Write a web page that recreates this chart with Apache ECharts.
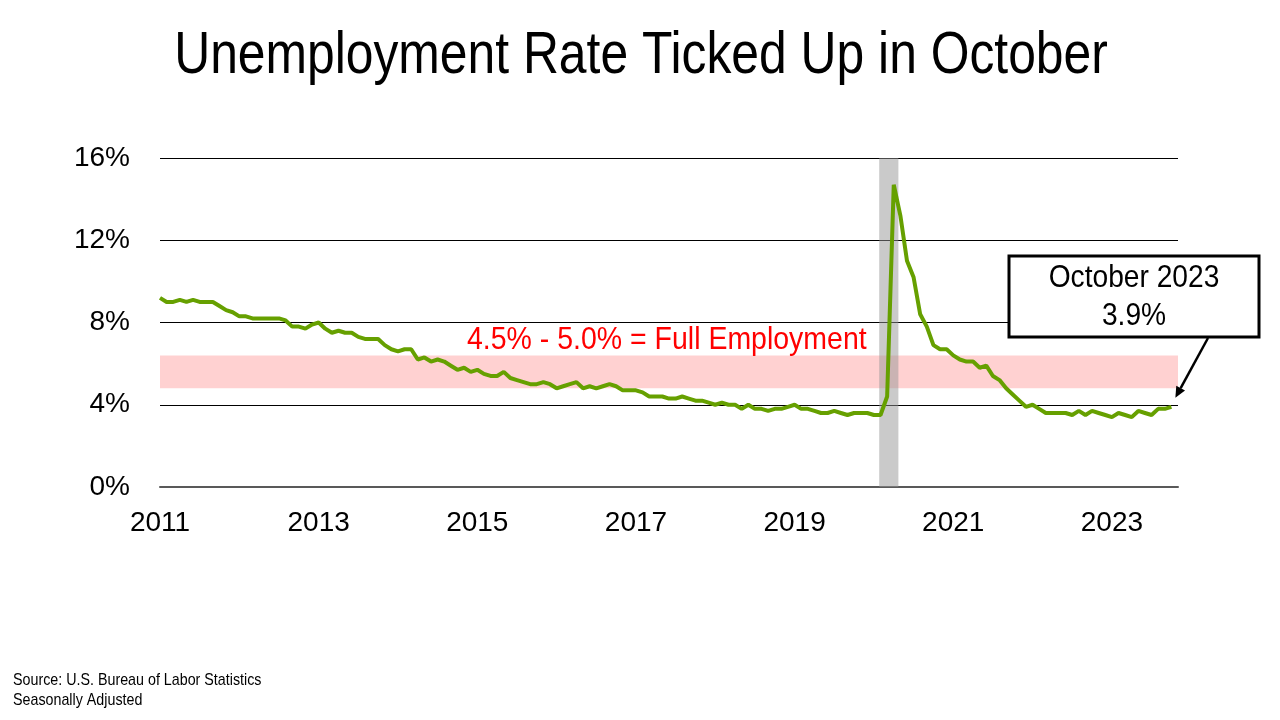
<!DOCTYPE html>
<html><head><meta charset="utf-8">
<script src="https://cdn.jsdelivr.net/npm/echarts@6/dist/echarts.min.js"></script>
<style>html,body{margin:0;padding:0;background:#fff}#c{width:1280px;height:720px}</style>
</head><body><div id="c"></div>
<script>
// Monthly unemployment rate, Jan 2011 .. Oct 2023
var startYear = 2011;
var rate2011 = [9.2, 9.0, 9.0, 9.1, 9.0, 9.1, 9.0, 9.0, 9.0, 8.8, 8.6, 8.5];
var rate2012 = [8.3, 8.3, 8.2, 8.2, 8.2, 8.2, 8.2, 8.1, 7.8, 7.8, 7.7, 7.9];
var rate2013 = [8.0, 7.7, 7.5, 7.6, 7.5, 7.5, 7.3, 7.2, 7.2, 7.2, 6.9, 6.7];
var rate2014 = [6.6, 6.7, 6.7, 6.2, 6.3, 6.1, 6.2, 6.1, 5.9, 5.7, 5.8, 5.6];
var rate2015 = [5.7, 5.5, 5.4, 5.4, 5.6, 5.3, 5.2, 5.1, 5.0, 5.0, 5.1, 5.0];
var rate2016 = [4.8, 4.9, 5.0, 5.1, 4.8, 4.9, 4.8, 4.9, 5.0, 4.9, 4.7, 4.7];
var rate2017 = [4.7, 4.6, 4.4, 4.4, 4.4, 4.3, 4.3, 4.4, 4.3, 4.2, 4.2, 4.1];
var rate2018 = [4.0, 4.1, 4.0, 4.0, 3.8, 4.0, 3.8, 3.8, 3.7, 3.8, 3.8, 3.9];
var rate2019 = [4.0, 3.8, 3.8, 3.7, 3.6, 3.6, 3.7, 3.6, 3.5, 3.6, 3.6, 3.6];
var rate2020 = [3.5, 3.5, 4.4, 14.7, 13.2, 11.0, 10.2, 8.4, 7.8, 6.9, 6.7, 6.7];
var rate2021 = [6.4, 6.2, 6.1, 6.1, 5.8, 5.9, 5.4, 5.2, 4.8, 4.5, 4.2, 3.9];
var rate2022 = [4.0, 3.8, 3.6, 3.6, 3.6, 3.6, 3.5, 3.7, 3.5, 3.7, 3.6, 3.5];
var rate2023 = [3.4, 3.6, 3.5, 3.4, 3.7, 3.6, 3.5, 3.8, 3.8, 3.9];

var yTicks = [0, 4, 8, 12, 16];
var xTickYears = [2011, 2013, 2015, 2017, 2019, 2021, 2023];
var fullEmploymentBand = [4.8, 6.4];       // as drawn
var recessionMonths = [108.8, 111.7];      // Feb-Apr 2020 (months since Jan 2011)
var titleText = 'Unemployment Rate Ticked Up in October';
var bandLabel = '4.5% - 5.0% = Full Employment';
var calloutText = 'October 2023\n3.9%';
var sourceText = 'Source: U.S. Bureau of Labor Statistics\nSeasonally Adjusted';

var allRates = [].concat(rate2011, rate2012, rate2013, rate2014, rate2015, rate2016,
  rate2017, rate2018, rate2019, rate2020, rate2021, rate2022, rate2023);
var seriesData = allRates.map(function (v, i) { return [i, v]; });

var FONT = '"Liberation Sans", Arial, sans-serif';
var chart = echarts.init(document.getElementById('c'));
var option = {
  animation: false,
  backgroundColor: '#fff',
  grid: { left: 160, right: 102, top: 158, bottom: 233 },
  xAxis: {
    type: 'value', min: 0, max: 154, interval: 24,
    axisLine: { show: true, onZero: false, lineStyle: { color: '#595959', width: 2 } },
    axisTick: { show: false },
    splitLine: { show: false },
    axisLabel: {
      margin: 22, fontSize: 28, color: '#000', fontFamily: FONT, showMaxLabel: false,
      formatter: function (v) { return v % 24 === 0 ? String(startYear + v / 12) : ''; }
    }
  },
  yAxis: {
    type: 'value', min: yTicks[0], max: yTicks[yTicks.length - 1], interval: 4,
    axisLine: { show: false }, axisTick: { show: false },
    splitLine: { lineStyle: { color: '#000', width: 1 } },
    axisLabel: { margin: 30, fontSize: 28, color: '#000', fontFamily: FONT, formatter: '{value}%' }
  },
  series: [
    {
      type: 'line', data: seriesData, symbol: 'none', z: 2,
      lineStyle: { color: '#66a000', width: 4 },
      itemStyle: { color: '#66a000' }
    },
    {
      type: 'line', data: seriesData, symbol: 'none', z: 5, silent: true,
      lineStyle: { opacity: 0 },
      markArea: {
        silent: true,
        data: [
          [{ yAxis: fullEmploymentBand[0], itemStyle: { color: 'rgba(255,0,0,0.18)' } },
           { yAxis: fullEmploymentBand[1] }],
          [{ xAxis: recessionMonths[0], itemStyle: { color: 'rgba(150,150,150,0.5)' } },
           { xAxis: recessionMonths[1] }]
        ]
      }
    }
  ],
  graphic: [
    { type: 'text', x: 641, y: 56, scaleX: 0.83, z: 10,
      style: { text: titleText, fill: '#000', font: '60px ' + FONT, align: 'center',
               verticalAlign: 'middle' } },
    { type: 'text', x: 467, y: 340, scaleX: 0.89, z: 10,
      style: { text: bandLabel, fill: '#ff0000', font: '32px ' + FONT, align: 'left',
               verticalAlign: 'middle' } },
    { type: 'rect', shape: { x: 1009, y: 256, width: 250, height: 81 }, z: 10,
      style: { fill: '#fff', stroke: '#000', lineWidth: 3 } },
    { type: 'text', x: 1134, y: 297, scaleX: 0.88, z: 11,
      style: { text: calloutText, fill: '#000', font: '32px ' + FONT, align: 'center',
               verticalAlign: 'middle', lineHeight: 38 } },
    { type: 'text', x: 13, y: 690, scaleX: 0.84,
      style: { text: sourceText, fill: '#000', font: '17px ' + FONT, lineHeight: 20,
               align: 'left', verticalAlign: 'middle' } }
  ]
};
chart.setOption(option);

// arrow from callout box to latest data point
var last = seriesData[seriesData.length - 1];
var tip = chart.convertToPixel({ gridIndex: 0 }, last);
var from = [1208, 338];
var to = [tip[0] + 4, tip[1] - 9];
var ang = Math.atan2(to[1] - from[1], to[0] - from[0]);
var hl = 11, hw = 5;
var bx = to[0] - hl * Math.cos(ang), by = to[1] - hl * Math.sin(ang);
var g = option.graphic.concat([
  { type: 'line', z: 10, shape: { x1: from[0], y1: from[1], x2: bx, y2: by },
    style: { stroke: '#000', lineWidth: 2.5 } },
  { type: 'polygon', z: 10, shape: { points: [
      to,
      [bx + hw * Math.sin(ang), by - hw * Math.cos(ang)],
      [bx - hw * Math.sin(ang), by + hw * Math.cos(ang)]
    ] }, style: { fill: '#000' } }
]);
chart.setOption({ graphic: g }, { replaceMerge: ['graphic'] });
</script>
</body></html>
